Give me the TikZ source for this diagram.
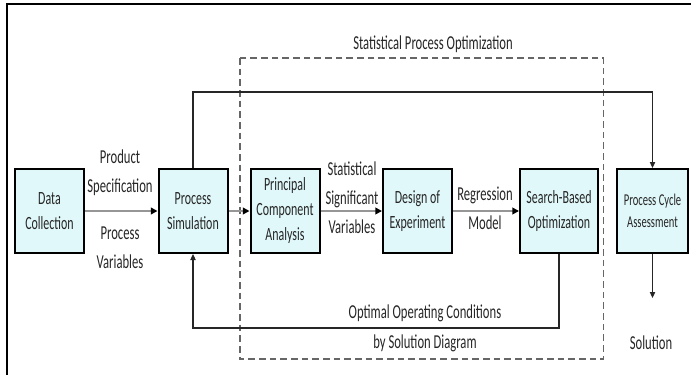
\documentclass[tikz,border=0pt]{standalone}
\usepackage{fontspec}
\setmainfont{Carlito}[FakeStretch=0.64]
\usetikzlibrary{arrows.meta}
\definecolor{boxcyan}{RGB}{224,248,250}
\definecolor{flowgray}{RGB}{150,150,150}

\begin{document}
\begin{tikzpicture}[x=0.75pt, y=-0.75pt,
    every node/.style={font=\fontsize{14.8}{21.75}\selectfont, align=center, text=black!85},
    blk/.style={draw=black, line width=1.5pt, fill=boxcyan, minimum width=51.75pt,
      minimum height=63pt, inner sep=1pt, font=\fontsize{14}{18.75}\selectfont},
    flow/.style={draw=flowgray, line width=2.2pt, -{Triangle[length=5pt, width=5pt, color=black]}},
    back/.style={draw=black!85, line width=0.8pt, -{Triangle[length=4.5pt, width=4pt]}}]
      \useasboundingbox (0,0) rectangle (691,375);
      \draw[line width=1.5pt] (7,375) -- (7,4) -- (691,4);

      % statistical part
      \draw[draw=black!60, line width=0.8pt, dash pattern=on 5pt off 3pt] (240,58) rectangle (603.5,359);
      \node (spo) at (433,44) {Statistical Process Optimization};

      \node[blk] (dc) at (49.5,211) {Data\\Collection};
      \node[blk] (ps) at (193,211) {Process\\Simulation};
      \node[blk] (pca) at (285,211) {Principal\\Component\\Analysis};
      \node[blk] (doe) at (417.5,211) {Design of\\Experiment};
      \node[blk, minimum width=58.5pt] (sbo) at (559,211) {Search-Based\\Optimization};
      \node[blk, minimum width=53.25pt, font=\fontsize{12.4}{16.5}\selectfont] (pcaa) at (652.5,211) {Process Cycle\\Assessment};

      \coordinate (upper) at (420,92);
      \coordinate (lower) at (420,328);
      \coordinate (sol) at (652.5,298);

      \draw[flow] (dc) -- (ps);
      \draw[flow] (ps) -- (pca);
      \draw[flow] (pca) -- (doe);
      \draw[flow] (doe) -- (sbo);

      \draw[back] (ps.north) |- (upper) -| (pcaa.north);
      \draw[back] (sbo.south) |- (lower) -| (ps.south);
      \draw[back] (pcaa.south) -- (sol);

      \node (spec) at (120,172.5) {Product\\Specification};
      \node (pvar) at (120,247.5) {Process\\Variables};
      \node (ssv) at (352,198) {Statistical\\Significant\\Variables};
      \node (rm) at (485,208.5) {Regression\\Model};
      \node[font=\fontsize{14.8}{22.5}\selectfont] (ooc) at (425,328) {Optimal Operating Conditions\\by Solution Diagram};
      \node (solt) at (651,343) {Solution};
    \end{tikzpicture}
\end{document}
